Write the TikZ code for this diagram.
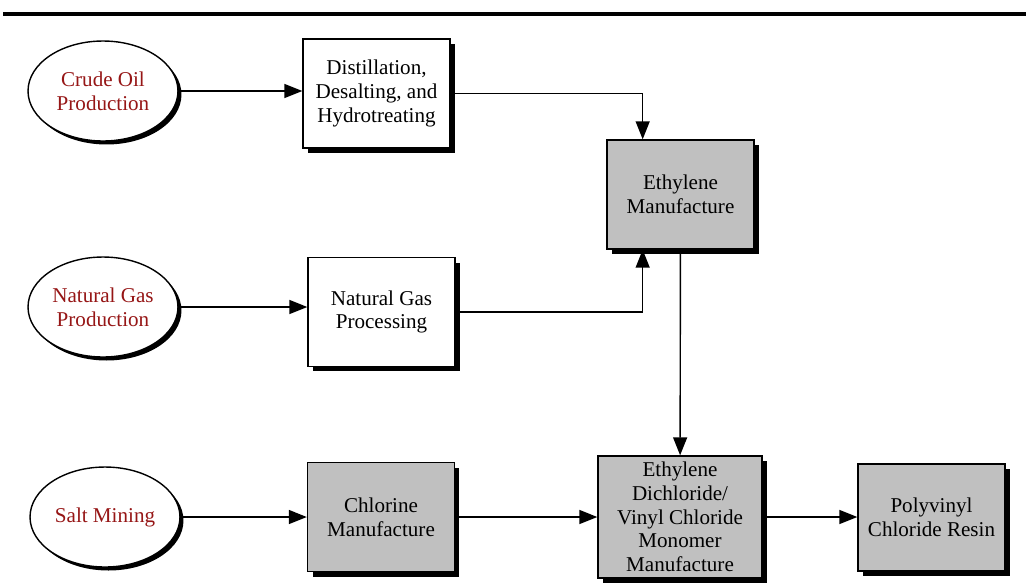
\documentclass[tikz,border=0pt]{standalone}
\usepackage{fontspec}
\setmainfont{Liberation Serif}
\usepackage{tikz}
\usetikzlibrary{arrows.meta,positioning,calc,shapes.geometric,shadows}

\definecolor{srcred}{RGB}{150,22,22}
\definecolor{procgray}{RGB}{192,192,192}

\tikzset{
  source/.style={ellipse, draw, thick, fill=white, minimum width=3.0cm, minimum height=2.0cm,
    inner sep=0pt, text=srcred, align=center, font=\fontsize{12}{13.5}\selectfont,
    drop shadow={shadow xshift=0.07cm, shadow yshift=-0.07cm, fill=black, opacity=1}},
  procbox/.style={rectangle, draw, thick, fill=white, minimum width=2.94cm, minimum height=2.18cm,
    align=center, font=\fontsize{12}{13.5}\selectfont,
    drop shadow={shadow xshift=0.1cm, shadow yshift=-0.1cm, fill=black, opacity=1}},
  grayproc/.style={procbox, fill=procgray},
  flow/.style={thick, -{Triangle[length=0.36cm, width=0.28cm]}}
}

\begin{document}
\begin{tikzpicture}[x=0.02cm, y=-0.02cm]
  \useasboundingbox (0,0) rectangle (1026,582);

  % Rule on top
  \draw[line width=2.4pt] (3,14) -- (1026,14);

  % Raw sources
  \node[source] (crude) at (103,91) {Crude Oil\\Production};
  \node[source] (natgas) at (103,307) {Natural Gas\\Production};
  \node[source] (salt) at (105,517) {Salt Mining};

  % Processing steps
  \node[procbox] (distill) at (376.5,93.5) {Distillation,\\Desalting, and\\Hydrotreating};
  \node[procbox] (ngproc) at (381.5,312) {Natural Gas\\Processing};
  \node[grayproc] (chlor) at (381,517) {Chlorine\\Manufacture};

  % Manufacture
  \node[grayproc] (ethyl) at (680.5,194.5) {Ethylene\\Manufacture};
  \node[grayproc, minimum width=3.28cm, minimum height=2.44cm] (edc) at (680,517)
    {Ethylene\\Dichloride/\\Vinyl Chloride\\Monomer\\Manufacture};
  \node[grayproc, minimum height=2.14cm] (pvc) at (931.5,517.5) {Polyvinyl\\Chloride Resin};

  % Flows
  \draw[flow] (crude) -- (crude -| distill.west);
  \draw[flow] (natgas) -- (natgas -| ngproc.west);
  \draw[flow] (salt) -- (chlor);
  \draw[flow] (distill.east) -| ($(ethyl.north west)!0.245!(ethyl.north east)$);
  \draw[flow] (ngproc.east) -| ($(ethyl.south west)!0.245!(ethyl.south east)$);
  \draw[flow] (ethyl) -- (edc);
  \draw[flow] (chlor) -- (edc);
  \draw[flow] (edc) -- (edc -| pvc.west);
\end{tikzpicture}
\end{document}
